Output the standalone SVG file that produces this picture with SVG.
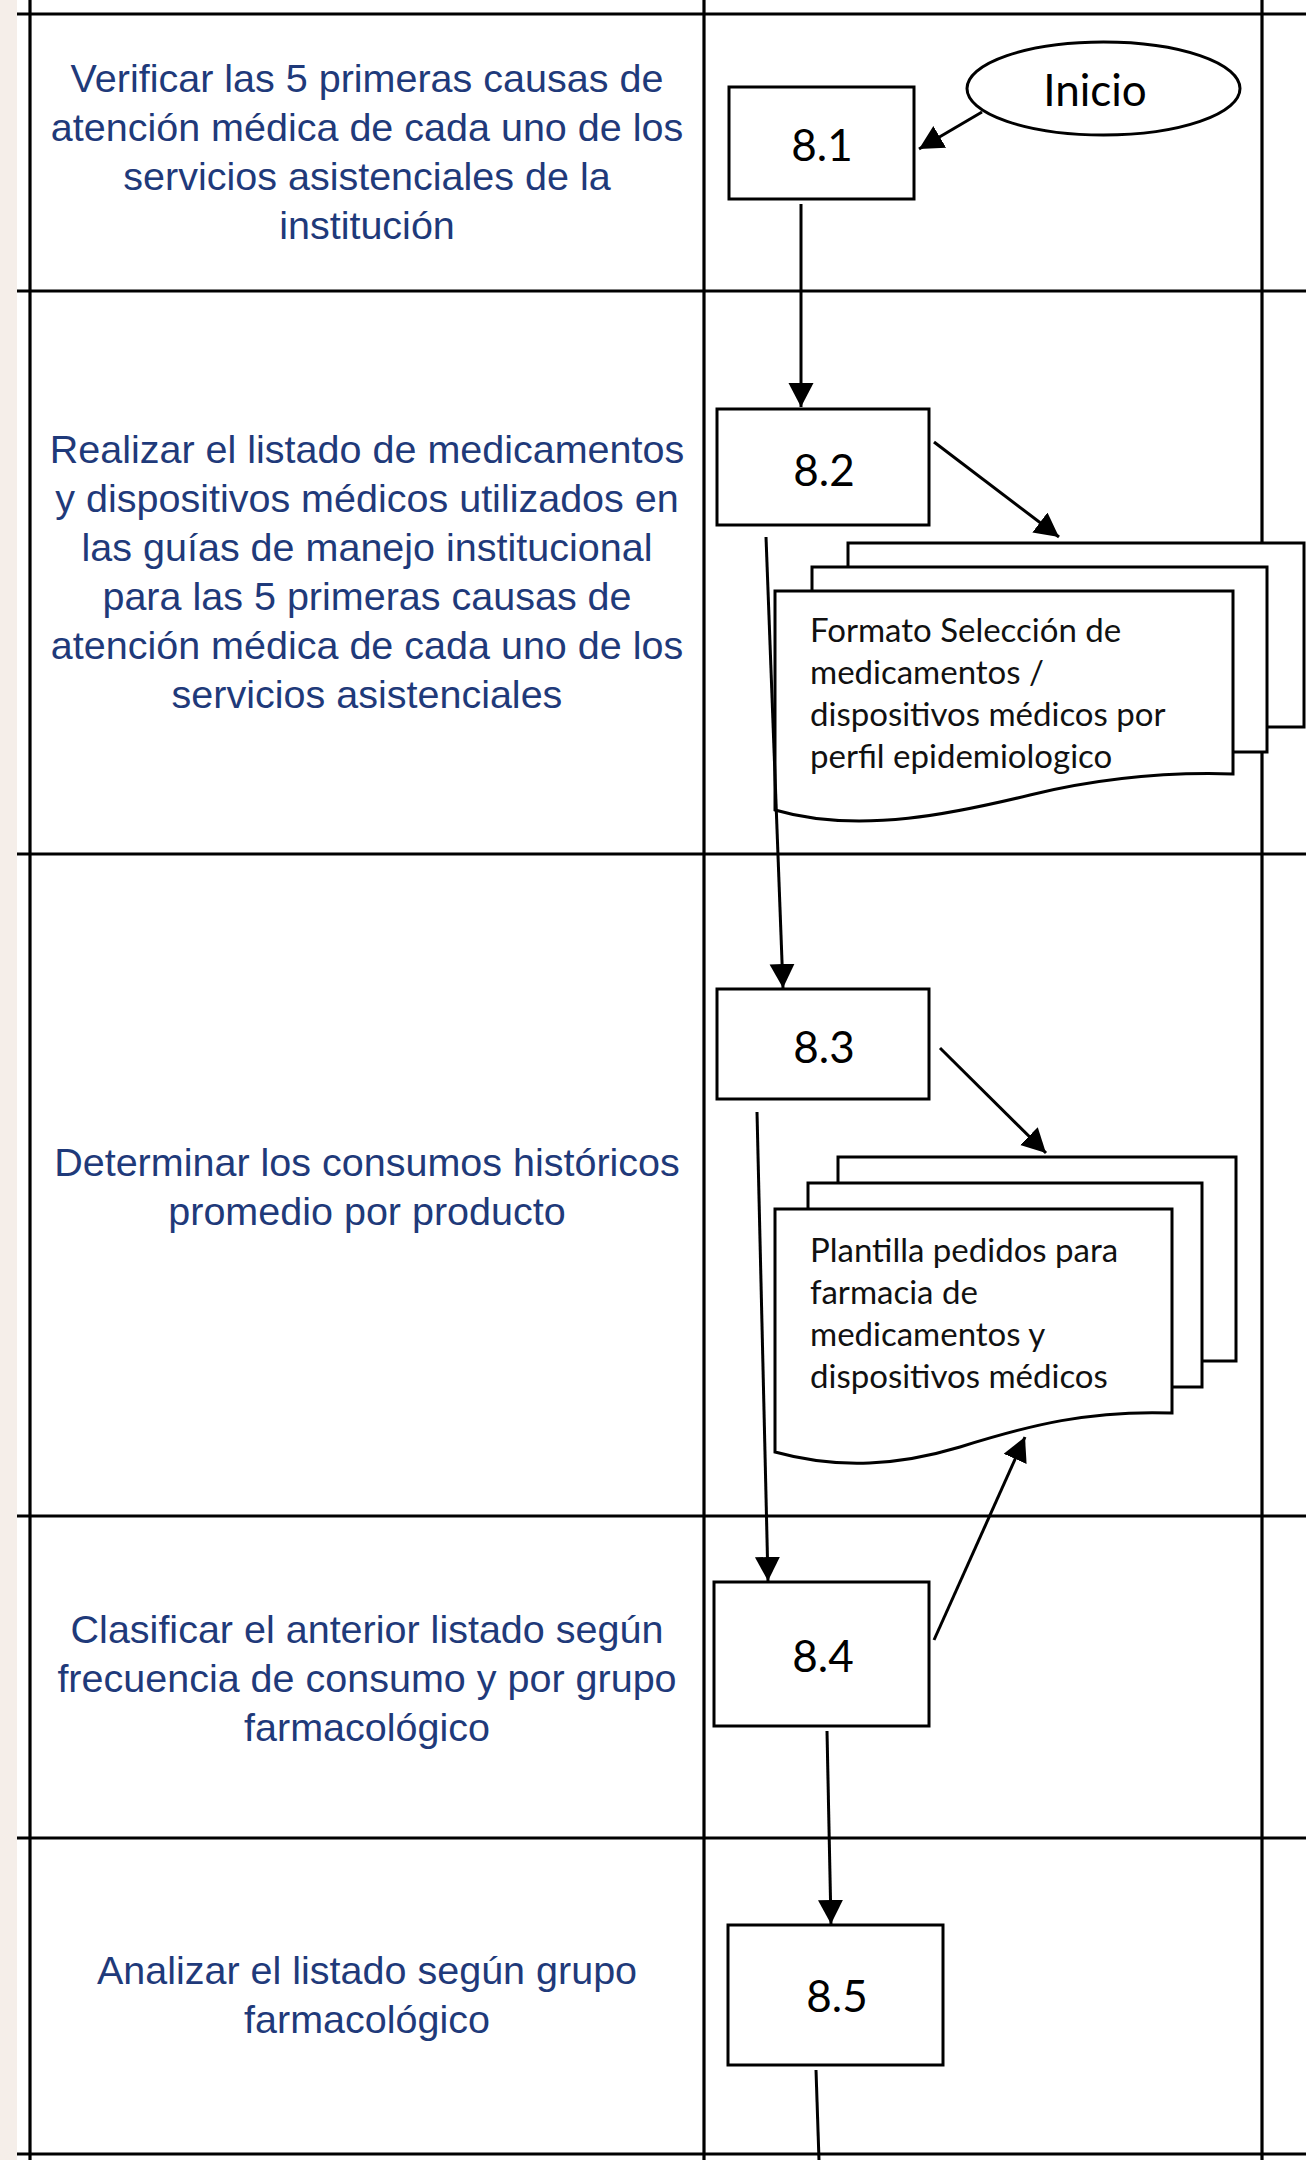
<svg xmlns="http://www.w3.org/2000/svg" width="1306" height="2160" viewBox="0 0 1306 2160">
<style>
.grid{stroke:#000;stroke-width:3.2;fill:none}
.lane{font-family:"Liberation Sans",Arial,sans-serif;font-size:39.5px;fill:#1f3a7a;text-anchor:middle}
.box{fill:#fff;stroke:#000;stroke-width:3}
.lbl{font-family:Lato,"Open Sans",sans-serif;font-size:44px;fill:#000;text-anchor:middle}
.doc{fill:#fff;stroke:#000;stroke-width:3}
.dtxt{font-family:Lato,"Open Sans",sans-serif;font-size:33px;fill:#111}
.con{stroke:#000;stroke-width:3;fill:none}
.arr{marker-end:url(#ah)}
</style>
<defs>
<marker id="ah" markerUnits="userSpaceOnUse" markerWidth="26" markerHeight="26" refX="24" refY="12.5" orient="auto">
<path d="M0,0 L24,12.5 L0,25 z" fill="#000"/>
</marker>
</defs>
<rect x="0" y="0" width="1306" height="2160" fill="#fff"/>
<rect x="0" y="0" width="17" height="2160" fill="#f5eee9"/>
<g id="grid" class="grid">
<line x1="17" y1="14" x2="1306" y2="14"/>
<line x1="17" y1="291" x2="1306" y2="291"/>
<line x1="17" y1="854" x2="1306" y2="854"/>
<line x1="17" y1="1516" x2="1306" y2="1516"/>
<line x1="17" y1="1838" x2="1306" y2="1838"/>
<line x1="17" y1="2154" x2="1306" y2="2154"/>
<line x1="30" y1="0" x2="30" y2="2160"/>
<line x1="704" y1="0" x2="704" y2="2160"/>
<line x1="1262" y1="0" x2="1262" y2="2160"/>
</g>
<g id="lane-texts" class="lane">
<text x="367" y="92">Verificar las 5 primeras causas de</text>
<text x="367" y="141">atención médica de cada uno de los</text>
<text x="367" y="190">servicios asistenciales de la</text>
<text x="367" y="239">institución</text>
<text x="367" y="463">Realizar el listado de medicamentos</text>
<text x="367" y="512">y dispositivos médicos utilizados en</text>
<text x="367" y="561">las guías de manejo institucional</text>
<text x="367" y="610">para las 5 primeras causas de</text>
<text x="367" y="659">atención médica de cada uno de los</text>
<text x="367" y="708">servicios asistenciales</text>
<text x="367" y="1176">Determinar los consumos históricos</text>
<text x="367" y="1225">promedio por producto</text>
<text x="367" y="1643">Clasificar el anterior listado según</text>
<text x="367" y="1692">frecuencia de consumo y por grupo</text>
<text x="367" y="1741">farmacológico</text>
<text x="367" y="1984">Analizar el listado según grupo</text>
<text x="367" y="2033">farmacológico</text>
</g>
<g id="doc1">
<rect class="doc" x="848" y="543" width="456" height="184"/>
<rect class="doc" x="812" y="567" width="455" height="185"/>
<path class="doc" d="M775,591 H1233 V774 C1170,772 1100,778 1030,795 C960,812 860,835 775,810 Z"/>
<g class="dtxt">
<text x="810" y="642">Formato Selección de</text>
<text x="810" y="684">medicamentos /</text>
<text x="810" y="726">dispositivos médicos por</text>
<text x="810" y="768">perfil epidemiologico</text>
</g>
</g>
<g id="doc2">
<rect class="doc" x="838" y="1157" width="398" height="204"/>
<rect class="doc" x="808" y="1183" width="394" height="204"/>
<path class="doc" d="M775,1209 H1172 V1413 C1090,1410 1030,1425 960,1447 C900,1465 840,1470 775,1452 Z"/>
<g class="dtxt">
<text x="810" y="1262">Plantilla pedidos para</text>
<text x="810" y="1304">farmacia de</text>
<text x="810" y="1346">medicamentos y</text>
<text x="810" y="1388">dispositivos médicos</text>
</g>
</g>
<g id="inicio">
<ellipse class="box" cx="1103.5" cy="88.5" rx="136.5" ry="46.5"/>
<text class="lbl" x="1095" y="106">Inicio</text>
</g>
<g id="n81">
<rect class="box" x="729" y="87" width="185" height="112"/>
<text class="lbl" x="822" y="161">8.1</text>
</g>
<g id="n82">
<rect class="box" x="717" y="409" width="212" height="116"/>
<text class="lbl" x="824" y="486">8.2</text>
</g>
<g id="n83">
<rect class="box" x="717" y="989" width="212" height="110"/>
<text class="lbl" x="824" y="1063">8.3</text>
</g>
<g id="n84">
<rect class="box" x="714" y="1582" width="215" height="144"/>
<text class="lbl" x="823" y="1672">8.4</text>
</g>
<g id="n85">
<rect class="box" x="728" y="1925" width="215" height="140"/>
<text class="lbl" x="837" y="2012">8.5</text>
</g>
<g id="connectors" class="con">
<line class="arr" x1="982" y1="112" x2="919" y2="149"/>
<line class="arr" x1="801" y1="204" x2="801" y2="407"/>
<line class="arr" x1="934" y1="442" x2="1059" y2="537"/>
<line class="arr" x1="766" y1="537" x2="783" y2="988"/>
<line class="arr" x1="940" y1="1048" x2="1046" y2="1153"/>
<line class="arr" x1="757" y1="1112" x2="768" y2="1581"/>
<line class="arr" x1="934" y1="1640" x2="1025" y2="1437"/>
<line class="arr" x1="827" y1="1731" x2="831" y2="1924"/>
<line x1="816" y1="2070" x2="819" y2="2160"/>
</g>
</svg>
